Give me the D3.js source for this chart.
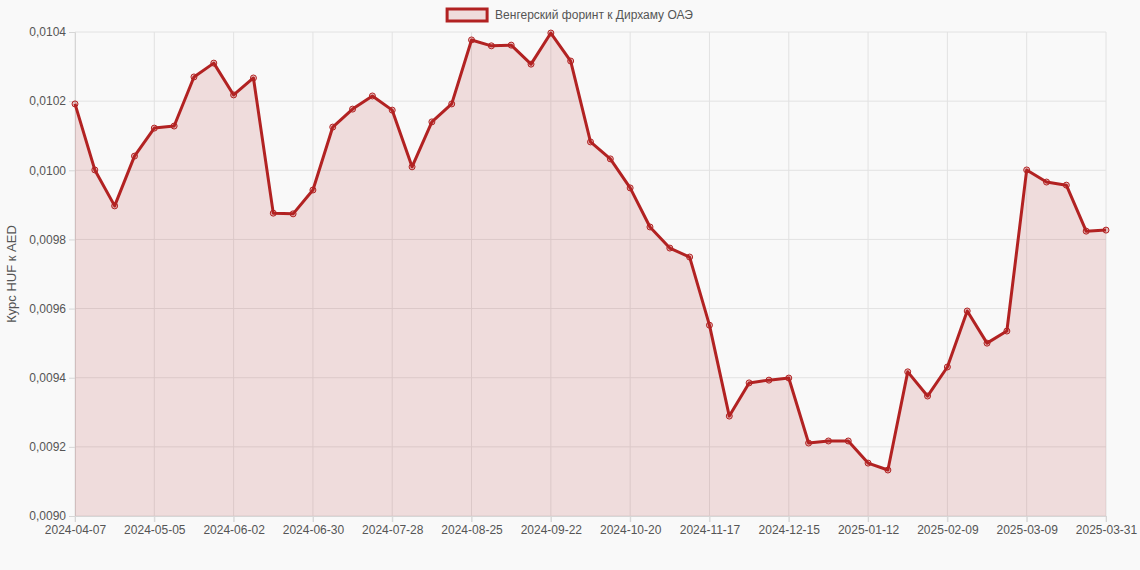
<!DOCTYPE html>
<html><head><meta charset="utf-8">
<script src="https://cdn.jsdelivr.net/npm/d3@7"></script>
<style>body{margin:0;background:#f9f9f9;font-family:"Liberation Sans",Arial,sans-serif}</style>
</head><body><svg id="chart" width="1140" height="570"></svg>
<script>
const dates = ["2024-04-07","2024-04-14","2024-04-21","2024-04-28","2024-05-05","2024-05-12","2024-05-19","2024-05-26",
"2024-06-02","2024-06-09","2024-06-16","2024-06-23","2024-06-30","2024-07-07","2024-07-14","2024-07-21","2024-07-28",
"2024-08-04","2024-08-11","2024-08-18","2024-08-25","2024-09-01","2024-09-08","2024-09-15","2024-09-22","2024-09-29",
"2024-10-06","2024-10-13","2024-10-20","2024-10-27","2024-11-03","2024-11-10","2024-11-17","2024-11-24","2024-12-01",
"2024-12-08","2024-12-15","2024-12-22","2024-12-29","2025-01-05","2025-01-12","2025-01-19","2025-01-26","2025-02-02",
"2025-02-09","2025-02-16","2025-02-23","2025-03-02","2025-03-09","2025-03-16","2025-03-23","2025-03-30","2025-03-31"];
const rates = [0.010192,0.010001,0.009897,0.010041,0.010122,0.010128,0.01027,0.01031,0.010218,0.010267,0.009876,0.009874,
0.009943,0.010125,0.010177,0.010215,0.010174,0.01001,0.01014,0.010192,0.010377,0.01036,0.010362,0.010307,0.010397,
0.010316,0.010082,0.010033,0.009949,0.009836,0.009775,0.009749,0.009552,0.009289,0.009385,0.009393,0.009399,0.009211,
0.009217,0.009217,0.009153,0.009133,0.009417,0.009347,0.009431,0.009593,0.0095,0.009535,0.010001,0.009966,0.009957,
0.009824,0.009827];
const yTicks = [0.0090,0.0092,0.0094,0.0096,0.0098,0.0100,0.0102,0.0104];
const seriesName = "Венгерский форинт к Дирхаму ОАЭ";
const yTitle = "Курс HUF к AED";

const svg = d3.select("#chart");
const margin = {top: 32, right: 34, bottom: 54, left: 75};
const W = 1140, H = 570;
const x = d3.scalePoint().domain(d3.range(dates.length)).range([margin.left, W - margin.right]);
const y = d3.scaleLinear().domain([0.0090, 0.0104]).range([H - margin.bottom, margin.top]);
const red = "#b22222", fillc = "rgba(178,34,34,0.13)";

// every 4th week plus the last point, no duplicates
const xTickIdx = Array.from(new Set(d3.range(0, dates.length, 4).concat([dates.length - 1])));

// grid
svg.append("g").selectAll("line").data(yTicks).join("line")
  .attr("x1", margin.left).attr("x2", W - margin.right)
  .attr("y1", d => y(d)).attr("y2", d => y(d)).attr("stroke", "#e2e2e2");
svg.append("g").selectAll("line").data(xTickIdx).join("line")
  .attr("x1", d => x(d)).attr("x2", d => x(d))
  .attr("y1", margin.top).attr("y2", H - margin.bottom + 6).attr("stroke", "#e2e2e2");

// axes
const fmt = d => d3.format(".4f")(d).replace(".", ",");
const ya = svg.append("g").attr("transform", `translate(${margin.left},0)`)
  .call(d3.axisLeft(y).tickValues(yTicks).tickFormat(fmt).tickSize(6));
const xa = svg.append("g").attr("transform", `translate(0,${H - margin.bottom})`)
  .call(d3.axisBottom(x).tickValues(xTickIdx).tickFormat(i => dates[i]).tickSize(6));
[ya, xa].forEach(a => {
  a.selectAll("path,line").attr("stroke", "#d6d6d6");
  a.selectAll("text").attr("fill", "#555").style("font-size", "12px").style("font-family", "Liberation Sans, Arial");
});

svg.append("text").attr("transform", `translate(16,${(margin.top + H - margin.bottom) / 2}) rotate(-90)`)
  .attr("text-anchor", "middle").attr("fill", "#555").style("font-size", "13px").text(yTitle);

// area + line
svg.append("path").datum(rates)
  .attr("d", d3.area().x((d, i) => x(i)).y0(y(0.0090)).y1(d => y(d)))
  .attr("fill", fillc);
svg.append("path").datum(rates)
  .attr("d", d3.line().x((d, i) => x(i)).y(d => y(d)))
  .attr("fill", "none").attr("stroke", red).attr("stroke-width", 3).attr("stroke-linejoin", "round");
svg.append("g").selectAll("circle").data(rates).join("circle")
  .attr("cx", (d, i) => x(i)).attr("cy", d => y(d)).attr("r", 3)
  .attr("fill", "rgba(178,34,34,0.25)").attr("stroke", red).attr("stroke-width", 1);

// legend
const lg = svg.append("g");
const lt = lg.append("text").attr("y", 19).attr("fill", "#555").style("font-size", "12px").text(seriesName);
const tw = lt.node().getComputedTextLength();
const lx = (W - (tw + 48)) / 2;
lg.append("rect").attr("x", lx).attr("y", 9).attr("width", 40).attr("height", 12)
  .attr("fill", fillc).attr("stroke", red).attr("stroke-width", 3);
lt.attr("x", lx + 48);
</script></body></html>
